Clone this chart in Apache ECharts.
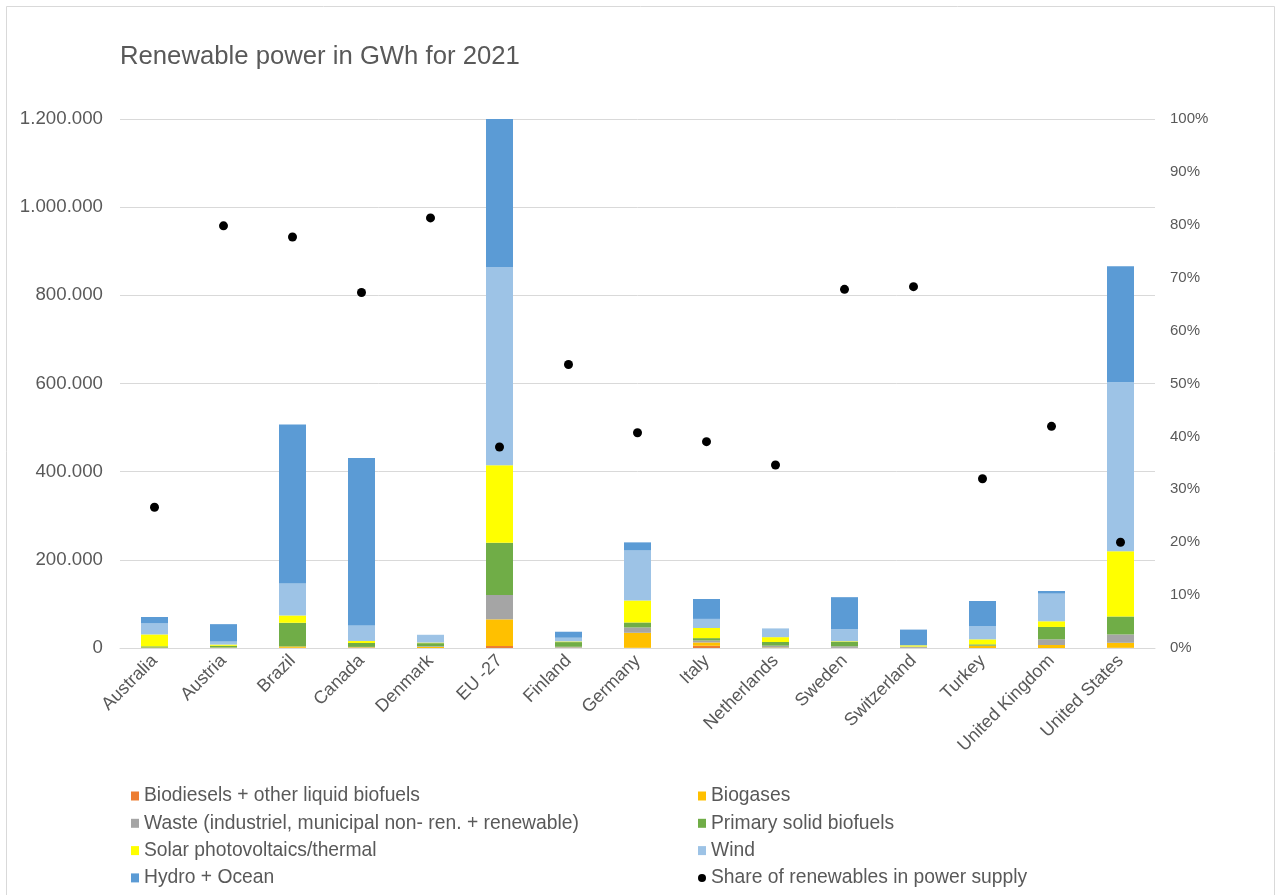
<!DOCTYPE html>
<html>
<head>
<meta charset="utf-8">
<title>Renewable power in GWh for 2021</title>
<script src="https://cdn.jsdelivr.net/npm/echarts@6/dist/echarts.min.js"></script>
<style>
  html, body { margin: 0; padding: 0; background: #ffffff; }
  #chart { width: 1281px; height: 895px; }
</style>
</head>
<body>
<div id="chart"></div>
<script>
// Countries / regions on the category axis
const countries = ['Australia', 'Austria', 'Brazil', 'Canada', 'Denmark', 'EU -27', 'Finland',
  'Germany', 'Italy', 'Netherlands', 'Sweden', 'Switzerland', 'Turkey', 'United Kingdom', 'United States'];

// Renewable generation by source, GWh (stacked bottom to top)
const biodiesels = [0, 0, 500, 0, 0, 4500, 0, 500, 5000, 0, 0, 0, 0, 0, 500];
const biogases   = [1000, 700, 3000, 1500, 2500, 60500, 800, 34000, 7600, 1000, 300, 400, 5000, 6800, 11300];
const waste      = [0, 500, 0, 1000, 1500, 55200, 2000, 12100, 4500, 4300, 3500, 2600, 300, 12900, 18900];
const solidBio   = [2800, 3800, 53700, 8800, 7000, 118700, 10600, 11300, 5300, 8300, 10600, 300, 3000, 28000, 40800];
const solar      = [27000, 2800, 16600, 4500, 1300, 175400, 1500, 49900, 23000, 11000, 1100, 2800, 11300, 12900, 148200];
const wind       = [25000, 6800, 72600, 35500, 17000, 449900, 8400, 113400, 20600, 18500, 27200, 150, 30300, 62700, 383400];
const hydroOcean = [14500, 39500, 360600, 379600, 500, 335800, 13600, 18400, 45200, 800, 72600, 35500, 56700, 6000, 263100];

// Share of renewables in power supply, %
const sharePct = [26.6, 79.8, 77.7, 67.2, 81.3, 38.0, 53.6, 40.7, 39.0, 34.6, 67.8, 68.3, 32.0, 41.9, 20.0];

// Axis settings
const gwhMax = 1200000;
const gwhStep = 200000;
const pctMax = 100;
const pctStep = 10;

const FONT = '"Liberation Sans", Arial, sans-serif';
const TEXT = '#595959';
const GRID = '#d9d9d9';

const chart = echarts.init(document.getElementById('chart'), null, { renderer: 'canvas' });

function thousands(v) {
  return String(v).replace(/\B(?=(\d{3})+(?!\d))/g, '.');
}

const stackDefs = [
  { name: 'Biodiesels + other liquid biofuels', data: biodiesels, color: '#ED7D31' },
  { name: 'Biogases', data: biogases, color: '#FFC000' },
  { name: 'Waste (industriel, municipal non- ren. + renewable)', data: waste, color: '#A5A5A5' },
  { name: 'Primary solid biofuels', data: solidBio, color: '#70AD47' },
  { name: 'Solar photovoltaics/thermal', data: solar, color: '#FFFF00' },
  { name: 'Wind', data: wind, color: '#9DC3E6' },
  { name: 'Hydro + Ocean', data: hydroOcean, color: '#5B9BD5' }
];

const barSeries = stackDefs.map(d => ({
  name: d.name,
  type: 'bar',
  stack: 'gwh',
  barWidth: 27,
  data: d.data,
  itemStyle: { color: d.color },
  emphasis: { disabled: true }
}));

const legendText = { color: TEXT, fontFamily: FONT, fontSize: 19.3, lineHeight: 20 };

const legendBase = {
  orient: 'vertical',
  top: 786,
  height: 108,
  padding: 0,
  itemWidth: 8,
  itemHeight: 9,
  itemGap: 7.3,
  textStyle: legendText
};

const option = {
  animation: false,
  backgroundColor: '#ffffff',
  title: {
    text: 'Renewable power in GWh for 2021',
    left: 115,
    top: 39,
    textStyle: { color: TEXT, fontFamily: FONT, fontSize: 25.7, fontWeight: 'normal' }
  },
  graphic: [{
    type: 'rect',
    shape: { x: 6.5, y: 6.5, width: 1268, height: 900 },
    style: { fill: null, stroke: GRID, lineWidth: 1 },
    silent: true,
    z: -1
  }],
  legend: [
    Object.assign({}, legendBase, {
      left: 131,
      data: [
        { name: 'Biodiesels + other liquid biofuels', icon: 'rect' },
        { name: 'Waste (industriel, municipal non- ren. + renewable)', icon: 'rect' },
        { name: 'Solar photovoltaics/thermal', icon: 'rect' },
        { name: 'Hydro + Ocean', icon: 'rect' }
      ]
    }),
    Object.assign({}, legendBase, {
      left: 698,
      data: [
        { name: 'Biogases', icon: 'rect' },
        { name: 'Primary solid biofuels', icon: 'rect' },
        { name: 'Wind', icon: 'rect' },
        { name: 'Share of renewables in power supply', icon: 'circle' }
      ]
    })
  ],
  grid: { left: 120, right: 126, top: 119, bottom: 247, containLabel: false },
  xAxis: {
    type: 'category',
    data: countries,
    axisLine: { show: true, lineStyle: { color: GRID, width: 1 } },
    axisTick: { show: false },
    axisLabel: {
      rotate: 45,
      margin: 10,
      interval: 0,
      color: TEXT,
      fontFamily: FONT,
      fontSize: 18
    }
  },
  yAxis: [
    {
      type: 'value',
      min: 0,
      max: gwhMax,
      interval: gwhStep,
      axisLine: { show: false },
      axisTick: { show: false },
      splitLine: { show: true, lineStyle: { color: GRID, width: 1 } },
      axisLabel: {
        margin: 17,
        color: TEXT,
        fontFamily: FONT,
        fontSize: 18.7,
        formatter: v => thousands(v)
      }
    },
    {
      type: 'value',
      min: 0,
      max: pctMax,
      interval: pctStep,
      position: 'right',
      axisLine: { show: false },
      axisTick: { show: false },
      splitLine: { show: false },
      axisLabel: {
        margin: 15,
        color: TEXT,
        fontFamily: FONT,
        fontSize: 15,
        formatter: v => v + '%'
      }
    }
  ],
  series: barSeries.concat([{
    name: 'Share of renewables in power supply',
    type: 'scatter',
    yAxisIndex: 1,
    symbol: 'circle',
    symbolSize: 9,
    data: sharePct,
    itemStyle: { color: '#000000', opacity: 1 },
    emphasis: { disabled: true },
    z: 5
  }])
};

chart.setOption(option);
</script>
</body>
</html>
